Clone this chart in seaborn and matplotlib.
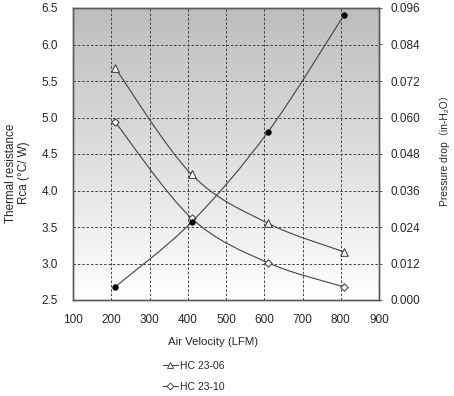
import numpy as np
import pandas as pd
import matplotlib
matplotlib.use('Agg')
import matplotlib.pyplot as plt
import seaborn as sns
from matplotlib.path import Path
from matplotlib.patches import PathPatch
from matplotlib.lines import Line2D
from matplotlib.colors import LinearSegmentedColormap

# values
velocity = [210, 410, 610, 808]
rca_hc2306 = [5.68, 4.22, 3.55, 3.16]
rca_hc2310 = [4.94, 3.62, 3.01, 2.68]
pressure_drop = [0.0043, 0.0256, 0.0553, 0.0936]

x_ticks = [100, 200, 300, 400, 500, 600, 700, 800, 900]
left_ticks = [2.5, 3.0, 3.5, 4.0, 4.5, 5.0, 5.5, 6.0, 6.5]
right_ticks = [0.000, 0.012, 0.024, 0.036, 0.048, 0.060, 0.072, 0.084, 0.096]

sns.set_style('ticks')
plt.rcParams['font.family'] = ['Liberation Sans', 'DejaVu Sans', 'Noto Sans CJK SC']

line_col = '#444444'
W, H = 454, 396


def smooth_curve(ax, xs, ys):
    # smoothed line like a spreadsheet chart: cubic bezier through the points
    pts = np.column_stack([xs, ys]).astype(float)
    n = len(pts)
    verts = [pts[0]]
    codes = [Path.MOVETO]
    for i in range(n - 1):
        p0 = pts[max(i - 1, 0)]
        p1 = pts[i]
        p2 = pts[i + 1]
        p3 = pts[min(i + 2, n - 1)]
        c1 = p1 + (p2 - p0) / 6.0
        c2 = p2 - (p3 - p1) / 6.0
        verts += [c1, c2, p2]
        codes += [Path.CURVE4] * 3
    ax.add_patch(PathPatch(Path(verts, codes), facecolor='none',
                           edgecolor=line_col, lw=0.8, zorder=3))


fig = plt.figure(figsize=(W / 100, H / 100), dpi=100)
ax = fig.add_axes([73 / W, 1 - 300 / H, 306 / W, 292 / H])
ax2 = ax.twinx()

# grey gradient background
cmap = LinearSegmentedColormap.from_list('bg', ['#ffffff', '#bdbdbd'])
grad = np.linspace(0, 1, 256).reshape(-1, 1)
ax.imshow(grad, cmap=cmap, aspect='auto', origin='lower',
          extent=[100, 900, 2.5, 6.5], zorder=0)

df = pd.DataFrame({'v': velocity, 'a': rca_hc2306, 'b': rca_hc2310, 'p': pressure_drop})

smooth_curve(ax, df['v'], df['a'])
smooth_curve(ax, df['v'], df['b'])
sns.scatterplot(data=df, x='v', y='a', ax=ax, marker='^', s=30,
                facecolor='white', edgecolor='#333333', linewidth=0.7, zorder=4)
sns.scatterplot(data=df, x='v', y='b', ax=ax, marker='D', s=14,
                facecolor='white', edgecolor='#333333', linewidth=0.7, zorder=4)

smooth_curve(ax2, df['v'], df['p'])
sns.scatterplot(data=df, x='v', y='p', ax=ax2, marker='o', s=16,
                color='black', edgecolor='black', linewidth=0.5, zorder=4)

ax.set_xlim(100, 900)
ax.set_ylim(2.5, 6.5)
ax2.set_ylim(0, 0.096)
ax.set_xticks(x_ticks)
ax.set_yticks(left_ticks)
ax.set_yticklabels(['%.1f' % t for t in left_ticks])
ax2.set_yticks(right_ticks)
ax2.set_yticklabels(['%.3f' % t for t in right_ticks])

ax.grid(True, color='#404040', linestyle=(0, (2.5, 2)), linewidth=0.7)
ax.set_axisbelow(False)
for a in (ax, ax2):
    for sp in a.spines.values():
        sp.set_color('#5a5a5a')
        sp.set_linewidth(1.0)
        sp.set_zorder(5)
ax.tick_params(axis='y', labelsize=8.5, length=0, pad=11)
ax.tick_params(axis='x', labelsize=8.5, length=0, pad=10)
ax2.tick_params(axis='y', labelsize=8.5, length=2.5, width=0.7,
                color='#555555', pad=5.5)
ax.set_xlabel('')
ax.set_ylabel('')
ax2.set_ylabel('')

fig.text(213 / W, 1 - 342 / H, 'Air Velocity (LFM)', fontsize=8.2,
         ha='center', va='center')
fig.text(17.5 / W, 1 - 173 / H, 'Thermal resistance\nRca (°C/ W)', fontsize=8.4,
         rotation=90, ha='center', va='center', multialignment='center')
fig.text(445 / W, 1 - 148 / H, 'Pressure drop（in-H₂O）', fontsize=7.4,
         rotation=90, ha='center', va='center')

handles = [
    Line2D([], [], color=line_col, lw=0.8, marker='^', markersize=5,
           markerfacecolor='white', markeredgecolor='#333333', markeredgewidth=0.6),
    Line2D([], [], color=line_col, lw=0.8, marker='D', markersize=3.5,
           markerfacecolor='white', markeredgecolor='#333333', markeredgewidth=0.6),
]
fig.legend(handles, ['HC 23-06', 'HC 23-10'], loc='upper left',
           bbox_to_anchor=(163 / W, 1 - 361 / H), frameon=False, fontsize=7.5,
           handlelength=1.4, handletextpad=0.2, labelspacing=1.05,
           borderpad=0, borderaxespad=0)

fig.savefig('out.png', dpi=100)
